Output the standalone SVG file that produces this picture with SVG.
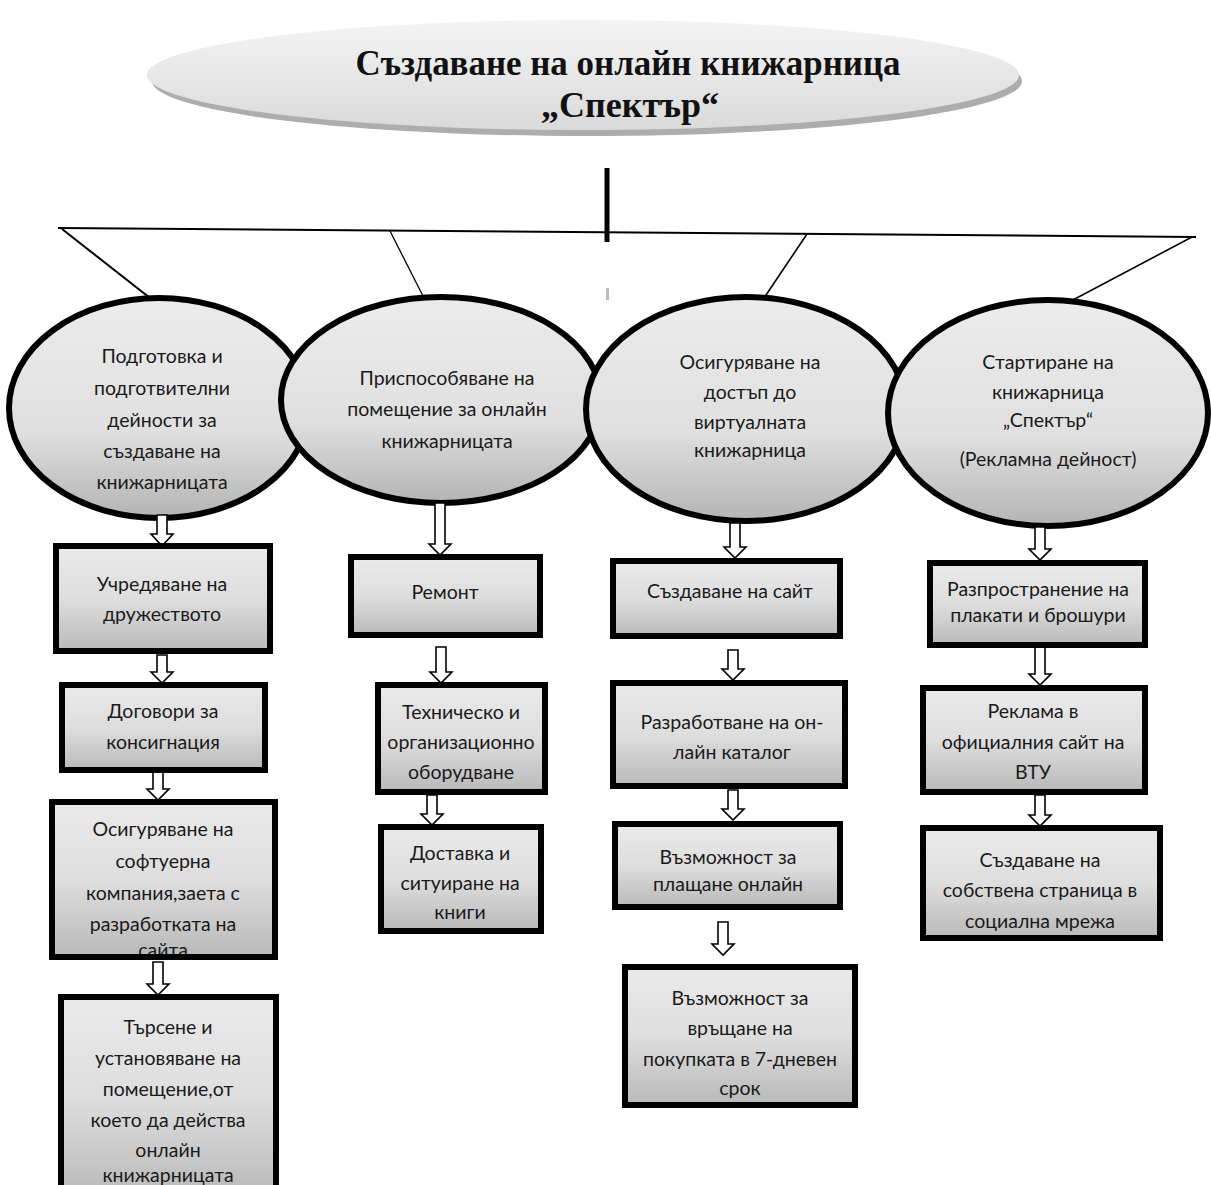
<svg xmlns="http://www.w3.org/2000/svg" width="1211" height="1185" viewBox="0 0 1211 1185">
<defs>
<linearGradient id="gEl" x1="0" y1="0" x2="0" y2="1">
<stop offset="0" stop-color="#ececec"/>
<stop offset="0.6" stop-color="#e0e0e0"/>
<stop offset="1" stop-color="#b4b4b4"/>
</linearGradient>
<linearGradient id="gBox" x1="0" y1="0" x2="0" y2="1">
<stop offset="0" stop-color="#eaeaea"/>
<stop offset="0.5" stop-color="#dedede"/>
<stop offset="1" stop-color="#b9b9b9"/>
</linearGradient>
<linearGradient id="gTop" x1="0" y1="0" x2="0" y2="1">
<stop offset="0" stop-color="#f4f4f4"/>
<stop offset="1" stop-color="#dadada"/>
</linearGradient>
<clipPath id="c3"><rect x="55" y="805" width="217" height="149"/></clipPath>
<clipPath id="c4"><rect x="64" y="1000" width="209" height="200"/></clipPath>
</defs>
<style>
.el{fill:url(#gEl);stroke:#000;stroke-width:6}
.bx{fill:url(#gBox);stroke:none}
.bs{fill:none;stroke:#000;stroke-width:6}
.t{font-family:Lato,"Open Sans","Liberation Sans",sans-serif;font-size:19.5px;fill:#1a1a1a;text-anchor:middle}
.title{font-family:"Liberation Serif","Times New Roman",serif;font-weight:bold;font-size:36px;fill:#111;text-anchor:middle}
.ar{fill:#fff;stroke:#000;stroke-width:1.6}
.ln{stroke:#000;fill:none}
</style>
<rect width="1211" height="1185" fill="#fff"/>

<g id="title">
<ellipse cx="587" cy="81" rx="435" ry="55" fill="#adadad"/>
<ellipse cx="583" cy="75" rx="436" ry="55" fill="url(#gTop)"/>
<text class="title" x="628" y="75" textLength="545" lengthAdjust="spacingAndGlyphs">Създаване на онлайн книжарница</text>
<text class="title" x="630" y="117">„Спектър“</text>
</g>

<g id="connectors">
<line class="ln" x1="607" y1="168" x2="607" y2="242" stroke-width="5"/>
<line class="ln" x1="58" y1="228" x2="1196" y2="237" stroke-width="2"/>
<line class="ln" x1="62" y1="229" x2="150" y2="298" stroke-width="2"/>
<line class="ln" x1="390" y1="231" x2="424" y2="298" stroke-width="1.3"/>
<line class="ln" x1="807" y1="234" x2="764" y2="298" stroke-width="1.6"/>
<line class="ln" x1="1192" y1="237" x2="1071" y2="301" stroke-width="1.6"/>
<rect x="606" y="288" width="3" height="12" fill="#bbb"/>
</g>

<g id="n1">
<ellipse class="el" cx="159" cy="408" rx="150" ry="110"/>
<text class="t" x="162" y="363">Подготовка и</text>
<text class="t" x="162" y="395">подготвителни</text>
<text class="t" x="162" y="427">дейности за</text>
<text class="t" x="162" y="458">създаване на</text>
<text class="t" x="162" y="489">книжарницата</text>
</g>
<g id="n2">
<ellipse class="el" cx="441" cy="400" rx="160" ry="103"/>
<text class="t" x="447" y="385">Приспособяване на</text>
<text class="t" x="447" y="416">помещение за онлайн</text>
<text class="t" x="447" y="448">книжарницата</text>
</g>
<g id="n3">
<ellipse class="el" cx="746" cy="409" rx="160" ry="112"/>
<text class="t" x="750" y="369">Осигуряване на</text>
<text class="t" x="750" y="399">достъп до</text>
<text class="t" x="750" y="429">виртуалната</text>
<text class="t" x="750" y="457">книжарница</text>
</g>
<g id="n4">
<ellipse class="el" cx="1048" cy="413" rx="160" ry="113"/>
<text class="t" x="1048" y="369">Стартиране на</text>
<text class="t" x="1048" y="399">книжарница</text>
<text class="t" x="1048" y="427">„Спектър“</text>
<text class="t" x="1048" y="466">(Рекламна дейност)</text>
</g>

<g id="arrows">
<path class="ar" stroke-width="5" d="M157 515 L167 515 L167 534 L173 534 L162 546 L151 534 L157 534 Z"/>
<path class="ar" d="M157 655 L167 655 L167 672 L173 672 L162 683 L151 672 L157 672 Z"/>
<path class="ar" d="M153 770 L163 770 L163 789 L169 789 L158 800 L147 789 L153 789 Z"/>
<path class="ar" d="M153 962 L163 962 L163 984 L169 984 L158 995 L147 984 L153 984 Z"/>
<path class="ar" d="M435 503 L445 503 L445 544 L451 544 L440 555 L429 544 L435 544 Z"/>
<path class="ar" d="M436 647 L446 647 L446 672 L452 672 L441 683 L430 672 L436 672 Z"/>
<path class="ar" d="M427 795 L437 795 L437 814 L443 814 L432 825 L421 814 L427 814 Z"/>
<path class="ar" d="M730 523 L740 523 L740 547 L746 547 L735 558 L724 547 L730 547 Z"/>
<path class="ar" d="M728 650 L738 650 L738 669 L744 669 L733 680 L722 669 L728 669 Z"/>
<path class="ar" d="M728 790 L738 790 L738 809 L744 809 L733 820 L722 809 L728 809 Z"/>
<path class="ar" d="M718 922 L728 922 L728 944 L734 944 L723 955 L712 944 L718 944 Z"/>
<path class="ar" d="M1035 527 L1045 527 L1045 549 L1051 549 L1040 560 L1029 549 L1035 549 Z"/>
<path class="ar" d="M1035 645 L1045 645 L1045 674 L1051 674 L1040 685 L1029 674 L1035 674 Z"/>
<path class="ar" d="M1035 795 L1045 795 L1045 815 L1051 815 L1040 826 L1029 815 L1035 815 Z"/>
</g>

<g id="b1">
<rect class="bx" x="56" y="546" width="214" height="105"/>
<text class="t" x="162" y="591">Учредяване на</text>
<text class="t" x="162" y="621">дружеството</text>
<rect class="bs" x="56" y="546" width="214" height="105"/>
</g>
<g id="b2">
<rect class="bx" x="62" y="685" width="203" height="85"/>
<text class="t" x="163" y="718">Договори за</text>
<text class="t" x="163" y="749">консигнация</text>
<rect class="bs" x="62" y="685" width="203" height="85"/>
</g>
<g id="b3">
<rect class="bx" x="52" y="802" width="223" height="155"/>
<g clip-path="url(#c3)">
<text class="t" x="163" y="836">Осигуряване на</text>
<text class="t" x="163" y="868">софтуерна</text>
<text class="t" x="163" y="900">компания,заета с</text>
<text class="t" x="163" y="931">разработката на</text>
<text class="t" x="163" y="957">сайта</text>
</g>
<rect class="bs" x="52" y="802" width="223" height="155"/>
</g>
<g id="b4">
<rect class="bx" x="61" y="997" width="215" height="200"/>
<g clip-path="url(#c4)">
<text class="t" x="168" y="1034">Търсене и</text>
<text class="t" x="168" y="1065">установяване на</text>
<text class="t" x="168" y="1096">помещение,от</text>
<text class="t" x="168" y="1127">което да действа</text>
<text class="t" x="168" y="1157">онлайн</text>
<text class="t" x="168" y="1182">книжарницата</text>
</g>
<rect class="bs" x="61" y="997" width="215" height="200"/>
</g>

<g id="b5">
<rect class="bx" x="351" y="557" width="189" height="78"/>
<text class="t" x="445" y="599">Ремонт</text>
<rect class="bs" x="351" y="557" width="189" height="78"/>
</g>
<g id="b6">
<rect class="bx" x="378" y="685" width="167" height="107"/>
<text class="t" x="461" y="719">Техническо и</text>
<text class="t" x="461" y="749">организационно</text>
<text class="t" x="461" y="779">оборудване</text>
<rect class="bs" x="378" y="685" width="167" height="107"/>
</g>
<g id="b7">
<rect class="bx" x="381" y="827" width="160" height="104"/>
<text class="t" x="460" y="860">Доставка и</text>
<text class="t" x="460" y="890">ситуиране на</text>
<text class="t" x="460" y="919">книги</text>
<rect class="bs" x="381" y="827" width="160" height="104"/>
</g>

<g id="b8">
<rect class="bx" x="613" y="561" width="227" height="75"/>
<text class="t" x="730" y="598">Създаване на сайт</text>
<rect class="bs" x="613" y="561" width="227" height="75"/>
</g>
<g id="b9">
<rect class="bx" x="613" y="683" width="232" height="103"/>
<text class="t" x="732" y="729">Разработване на он-</text>
<text class="t" x="732" y="759">лайн каталог</text>
<rect class="bs" x="613" y="683" width="232" height="103"/>
</g>
<g id="b10">
<rect class="bx" x="615" y="824" width="225" height="83"/>
<text class="t" x="728" y="864">Възможност за</text>
<text class="t" x="728" y="891">плащане онлайн</text>
<rect class="bs" x="615" y="824" width="225" height="83"/>
</g>
<g id="b11">
<rect class="bx" x="625" y="967" width="230" height="138"/>
<text class="t" x="740" y="1005">Възможност за</text>
<text class="t" x="740" y="1035">връщане на</text>
<text class="t" x="740" y="1066">покупката в 7-дневен</text>
<text class="t" x="740" y="1095">срок</text>
<rect class="bs" x="625" y="967" width="230" height="138"/>
</g>

<g id="b12">
<rect class="bx" x="930" y="563" width="215" height="82"/>
<text class="t" x="1038" y="596">Разпространение на</text>
<text class="t" x="1038" y="622">плакати и брошури</text>
<rect class="bs" x="930" y="563" width="215" height="82"/>
</g>
<g id="b13">
<rect class="bx" x="923" y="688" width="222" height="104"/>
<text class="t" x="1033" y="718">Реклама в</text>
<text class="t" x="1033" y="749">официалния сайт на</text>
<text class="t" x="1033" y="779">ВТУ</text>
<rect class="bs" x="923" y="688" width="222" height="104"/>
</g>
<g id="b14">
<rect class="bx" x="923" y="828" width="237" height="110"/>
<text class="t" x="1040" y="867">Създаване на</text>
<text class="t" x="1040" y="897">собствена страница в</text>
<text class="t" x="1040" y="928">социална мрежа</text>
<rect class="bs" x="923" y="828" width="237" height="110"/>
</g>
</svg>
